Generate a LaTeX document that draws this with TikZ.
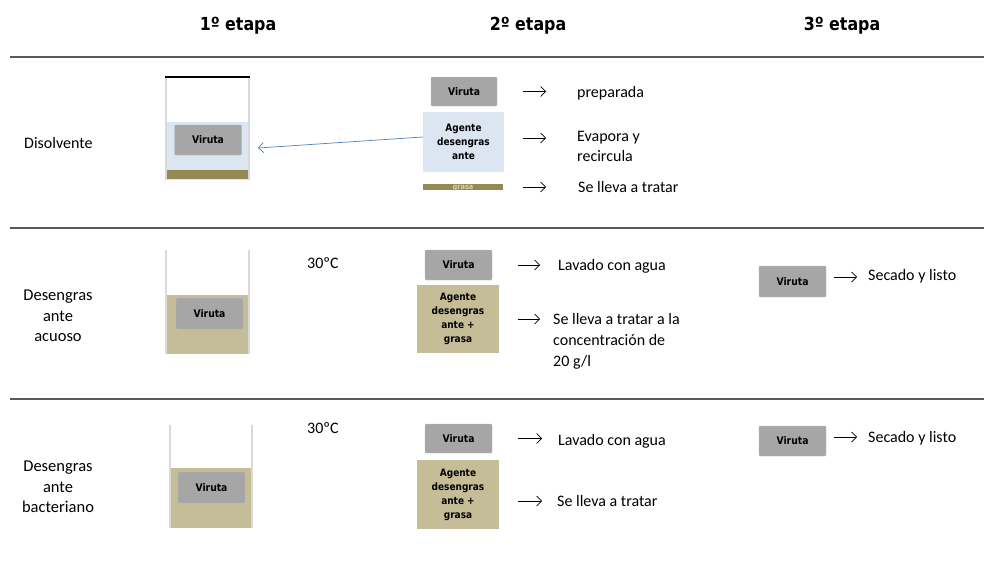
\documentclass[tikz,border=0pt]{standalone}
\usepackage{fontspec}
\usetikzlibrary{arrows.meta}
\setmainfont{Carlito}
\newfontfamily\etiq{DejaVu Sans}[FakeStretch=0.88]
\definecolor{gris}{HTML}{A6A6A6}
\definecolor{azulclaro}{HTML}{DCE6F2}
\definecolor{oliva}{HTML}{948A54}
\definecolor{arena}{HTML}{C4BD97}
\definecolor{paredgris}{HTML}{D9D9D9}
\definecolor{linea}{HTML}{595959}
\definecolor{azul}{HTML}{4F81BD}
\begin{document}
\begin{tikzpicture}[x=1pt,y=-1pt,
        viruta/.style={fill=gris,draw=gris!75!white,rounded corners=1pt,inner sep=0pt,minimum width=67pt,minimum height=30pt,font=\etiq\bfseries\fontsize{10.5}{12}\selectfont},
        agente/.style={inner sep=0pt,minimum width=82pt,align=center,font=\etiq\bfseries\fontsize{10.2}{14}\selectfont},
        texto/.style={anchor=west,inner sep=0pt,align=left,font=\fontsize{16}{20}\selectfont},
        fila/.style={inner sep=0pt,align=center,font=\fontsize{16.5}{20.5}\selectfont},
        titulo/.style={inner sep=0pt,font=\etiq\bfseries\fontsize{18}{20}\selectfont},
        flecha/.style={-{Straight Barb[length=5pt,width=10pt]},line width=0.7pt},
        vaso/.style={paredgris,line width=1.6pt},
        divisoria/.style={linea,line width=2.5pt}]
    \useasboundingbox (0,0) rectangle (984,560);

    \node[titulo] (et1) at (238,26) {1º etapa};
    \node[titulo] (et2) at (528,26) {2º etapa};
    \node[titulo] (et3) at (842,26) {3º etapa};
    \draw[divisoria] (10,57) -- (984,57);
    \draw[divisoria] (10,228) -- (984,228);
    \draw[divisoria] (10,399) -- (984,399);

    % disolvente
    \node[texto] (dis) at (24,143) {Disolvente};
    \fill[azulclaro] (166,122) rectangle (249,180);
    \fill[oliva] (166,170) rectangle (249,179);
    \draw[vaso] (166,78) -- (166,180) (249,78) -- (249,180);
    \draw[line width=1.2pt] (165,77) -- (250,77);
    \node[viruta] (vb1) at (208,140) {Viruta};
    \node[viruta,minimum width=66pt,minimum height=29pt] (v1) at (464,91.5) {Viruta};
    \node[agente,fill=azulclaro,minimum width=81pt,minimum height=60pt] (ag1) at (463.5,142) {Agente\\desengras\\ante};
    \node[fill=oliva,inner sep=0pt,minimum width=80pt,minimum height=6pt,text height=5pt,text depth=0pt,text=arena!70!white,font=\etiq\bfseries\fontsize{7.5}{7}\selectfont] (gr1) at (463,187) {grasa};
    \coordinate (llegada) at (258,148);
    \draw[-{Straight Barb[length=5pt,width=10pt]},azul,line width=0.7pt] ([yshift=5pt]ag1.west) -- (llegada);
    \draw[flecha] ([xshift=26pt]v1.east) -- +(23,0);
    \draw[flecha] ([xshift=19pt,yshift=4pt]ag1.east) -- +(23,0);
    \draw[flecha] ([xshift=20pt]gr1.east) -- +(23,0);
    \node[texto] (prep) at (577,93) {preparada};
    \node[texto] (evap) at (577,146) {Evapora y\\recircula};
    \node[texto] (trat1) at (578,187) {Se lleva a tratar};

    % acuoso
    \node[fila] (acu) at (58,316) {Desengras\\ante\\acuoso};
    \fill[arena] (166,295) rectangle (249,354);
    \draw[vaso] (166,250) -- (166,354) (249,250) -- (249,354);
    \node[viruta,minimum height=31pt] (vb2) at (209.5,313.5) {Viruta};
    \node[texto] (temp2) at (307,263) {30ºC};
    \node[viruta] (v2) at (458.5,265) {Viruta};
    \node[agente,fill=arena,minimum height=68pt] (ag2) at (458,319) {Agente\\desengras\\ante +\\grasa};
    \draw[flecha] ([xshift=26pt]v2.east) -- +(22,0);
    \draw[flecha] ([xshift=19pt]ag2.east) -- +(22,0);
    \node[texto] (lav2) at (558,266) {Lavado con agua};
    \node[texto,font=\fontsize{16}{21}\selectfont] (conc) at (553,341) {Se lleva a tratar a la\\concentración de\\20 g/l};
    \node[viruta,minimum height=31pt] (v2c) at (792.5,281.5) {Viruta};
    \draw[flecha] ([xshift=8pt,yshift=4.5pt]v2c.east) -- +(23,0);
    \node[texto] (sec2) at (868,276) {Secado y listo};

    % bacteriano
    \node[fila] (bac) at (58,487) {Desengras\\ante\\bacteriano};
    \fill[arena] (170,468) rectangle (252,528);
    \draw[vaso] (170,425) -- (170,528) (252,425) -- (252,528);
    \node[viruta,minimum height=31pt] (vb3) at (211.5,487.5) {Viruta};
    \node[texto] (temp3) at (307,428) {30ºC};
    \node[viruta,minimum height=29pt] (v3) at (458.5,438.5) {Viruta};
    \node[agente,fill=arena,minimum height=69pt] (ag3) at (458,494.5) {Agente\\desengras\\ante +\\grasa};
    \draw[flecha] ([xshift=26pt]v3.east) -- +(24,0);
    \draw[flecha] ([xshift=19pt,yshift=-6.5pt]ag3.east) -- +(24,0);
    \node[texto] (lav3) at (558,441) {Lavado con agua};
    \node[texto] (trat3) at (557,501) {Se lleva a tratar};
    \node[viruta] (v3c) at (792.5,441) {Viruta};
    \draw[flecha] ([xshift=8pt,yshift=4pt]v3c.east) -- +(23,0);
    \node[texto] (sec3) at (868,438) {Secado y listo};
\end{tikzpicture}
\end{document}
